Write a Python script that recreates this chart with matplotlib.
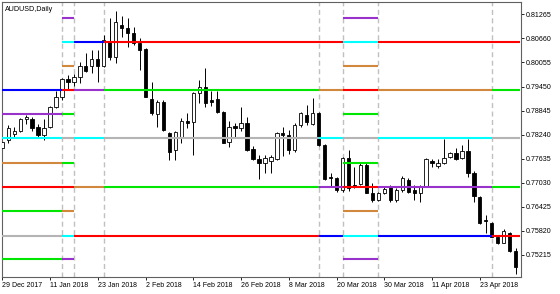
import matplotlib
matplotlib.use('Agg')
import matplotlib.pyplot as plt

plt.rcParams['font.family'] = ['Liberation Sans', 'DejaVu Sans']

# daily AUDUSD candles, bar 0 = 29 Dec 2017
opens = [0.77900, 0.78102, 0.78253, 0.78336, 0.78624, 0.78624, 0.78422, 0.78228, 0.78437, 0.78941,
         0.79178, 0.79632, 0.79571, 0.79682, 0.79967, 0.79967, 0.80136, 0.79967, 0.80579, 0.80201,
         0.81000, 0.80917, 0.80791, 0.80554, 0.80388, 0.79128, 0.78757, 0.79060, 0.78278, 0.77850,
         0.78185, 0.78581, 0.78563, 0.79279, 0.79430, 0.79110, 0.79128, 0.78815, 0.78059, 0.78455,
         0.78397, 0.78538, 0.77868, 0.77616, 0.77530, 0.77580, 0.77616, 0.78286, 0.78228, 0.77850,
         0.78480, 0.78732, 0.78498, 0.78775, 0.77976, 0.77170, 0.77137, 0.76842, 0.77641, 0.76968,
         0.76993, 0.77472, 0.76774, 0.76590, 0.76774, 0.76925, 0.76590, 0.76842, 0.77094, 0.76842,
         0.76774, 0.76925, 0.77580, 0.77447, 0.77515, 0.77681, 0.77782, 0.77641, 0.77832, 0.77278,
         0.76673, 0.76086, 0.76018, 0.75650, 0.75514, 0.75751, 0.75312]
highs = [0.78102, 0.78480, 0.78437, 0.78649, 0.78732, 0.78674, 0.78505, 0.78624, 0.78959, 0.79344,
         0.79664, 0.79740, 0.79765, 0.80075, 0.80287, 0.80370, 0.80370, 0.80748, 0.81169, 0.81353,
         0.81227, 0.81169, 0.80957, 0.80665, 0.80413, 0.79571, 0.79110, 0.79110, 0.78303, 0.78336,
         0.78649, 0.78775, 0.79299, 0.79614, 0.79909, 0.79344, 0.79344, 0.78833, 0.78588, 0.78523,
         0.78941, 0.78689, 0.77951, 0.77724, 0.77724, 0.77724, 0.78311, 0.78437, 0.78354, 0.78523,
         0.78815, 0.78984, 0.79153, 0.78808, 0.78001, 0.77263, 0.77177, 0.77681, 0.77850, 0.77429,
         0.77515, 0.77515, 0.77011, 0.76799, 0.76925, 0.76968, 0.76885, 0.77195, 0.77137, 0.76968,
         0.76968, 0.77641, 0.77616, 0.77616, 0.78120, 0.77807, 0.77893, 0.77976, 0.78120, 0.77328,
         0.76691, 0.76212, 0.76043, 0.75665, 0.75852, 0.75791, 0.75373]
lows = [0.77850, 0.78019, 0.78170, 0.78311, 0.78505, 0.78336, 0.78145, 0.78102, 0.78404, 0.78901,
        0.79110, 0.79362, 0.79463, 0.79531, 0.79823, 0.79783, 0.79571, 0.79949, 0.80118, 0.80035,
        0.80705, 0.80453, 0.80496, 0.79866, 0.79178, 0.78732, 0.78437, 0.78336, 0.77598, 0.77598,
        0.78019, 0.78404, 0.77724, 0.79042, 0.78941, 0.78959, 0.78775, 0.78026, 0.77918, 0.78145,
        0.78336, 0.77832, 0.77598, 0.77119, 0.77278, 0.77270, 0.77598, 0.77699, 0.77749, 0.77807,
        0.78437, 0.78480, 0.78480, 0.77951, 0.77094, 0.76925, 0.76799, 0.76799, 0.76817, 0.76885,
        0.76968, 0.76759, 0.76547, 0.76572, 0.76741, 0.76547, 0.76547, 0.76799, 0.76759, 0.76590,
        0.76547, 0.76910, 0.77429, 0.77389, 0.77497, 0.77641, 0.77598, 0.77616, 0.77177, 0.76547,
        0.75985, 0.75766, 0.75650, 0.75481, 0.75499, 0.75287, 0.74725]
closes = [0.78059, 0.78397, 0.78336, 0.78624, 0.78674, 0.78397, 0.78228, 0.78397, 0.78941, 0.79178,
          0.79632, 0.79564, 0.79697, 0.79974, 0.79848, 0.80136, 0.79967, 0.80622, 0.80201, 0.81083,
          0.80917, 0.80791, 0.80539, 0.80370, 0.79193, 0.78775, 0.79060, 0.78354, 0.77807, 0.78311,
          0.78581, 0.78538, 0.79279, 0.79430, 0.79042, 0.79067, 0.78815, 0.78034, 0.78437, 0.78412,
          0.78538, 0.77850, 0.77616, 0.77530, 0.77641, 0.77666, 0.78271, 0.78228, 0.77850, 0.78480,
          0.78775, 0.78563, 0.78775, 0.77976, 0.77112, 0.77144, 0.76842, 0.77641, 0.76885, 0.76925,
          0.77472, 0.76774, 0.76590, 0.76774, 0.76860, 0.76590, 0.76842, 0.77137, 0.76799, 0.76759,
          0.76925, 0.77616, 0.77515, 0.77515, 0.77641, 0.77767, 0.77616, 0.77832, 0.77278, 0.76691,
          0.76018, 0.76073, 0.75665, 0.75514, 0.75816, 0.75312, 0.74894]

tick_labels = ['29 Dec 2017', '11 Jan 2018', '23 Jan 2018', '2 Feb 2018', '14 Feb 2018', '26 Feb 2018',
               '8 Mar 2018', '20 Mar 2018', '30 Mar 2018', '11 Apr 2018', '23 Apr 2018']
price_ticks = [0.81265, 0.80660, 0.80055, 0.79450, 0.78845, 0.78240,
               0.77635, 0.77030, 0.76425, 0.75820, 0.75215]

# level periods: separators sit on these bars
separators = [10, 12, 17, 53, 57, 63, 82]
period_end = 86.8

levels_A = [0.79370, 0.78757, 0.78145, 0.77522, 0.76910, 0.76313, 0.75690, 0.75096]
colors_A = ['blue', 'purple', 'cyan', 'orange', 'red', 'green', 'gray', 'green']
levels_B = [0.81184, 0.80579, 0.79974, 0.79370, 0.78757, 0.78145, 0.77522, 0.76910, 0.76313, 0.75690, 0.75096]
colors_B = ['purple', 'cyan', 'orange', 'red', 'green', 'gray', 'green', 'red', 'orange', 'cyan', 'purple']
levels_C = [0.80579, 0.79370, 0.78145, 0.76910, 0.75690]
colors_C = ['blue', 'purple', 'cyan', 'orange', 'red']
levels_D = [0.80579, 0.79370, 0.78145, 0.76910, 0.75690]
colors_D = ['red', 'green', 'gray', 'green', 'red']
levels_E = [0.80579, 0.79370, 0.78145, 0.76910, 0.75690]
colors_E = ['red', 'orange', 'cyan', 'purple', 'blue']
periods = [(levels_A, colors_A), (levels_B, colors_B), (levels_C, colors_C), (levels_D, colors_D),
           (levels_E, colors_E), (levels_B, colors_B), (levels_E, colors_E), (levels_D, colors_D)]

palette = {'gray': '#b4b4b4', 'green': '#00e600', 'red': '#ff0000', 'orange': '#d2883c',
           'cyan': '#00ffff', 'purple': '#9932cc', 'blue': '#0000ff'}

fig = plt.figure(figsize=(5.6, 2.94), dpi=100)
ax = fig.add_axes([0.003, 0.0568, 0.927, 0.9374])
x0, x1 = -0.1, 86.86
ax.set_xlim(x0, x1)
ax.set_ylim(0.74642, 0.81587)

# candles
n = len(opens)
for i in range(n):
    ax.vlines(i, lows[i], highs[i], color='black', lw=0.7, zorder=2)
    lo = min(opens[i], closes[i])
    h = abs(closes[i] - opens[i])
    fc = 'white' if closes[i] >= opens[i] else 'black'
    ax.bar(i, h, 0.55, bottom=lo, color=fc, edgecolor='black', linewidth=0.6, zorder=3)

# period separators
for s in separators:
    ax.axvline(s, color='#c0c0c0', lw=1.0, dashes=(3.6, 2.5), zorder=1)

# level lines
edges = [x0] + separators + [period_end]
for k, (lv, cl) in enumerate(periods):
    for v, c in zip(lv, cl):
        ax.hlines(v, edges[k], edges[k + 1], color=palette[c], lw=1.5, zorder=4)

ax.text(0.007, 0.985, 'AUDUSD,Daily', transform=ax.transAxes, fontsize=5.1,
        ha='left', va='top')

ax.set_xticks(range(0, 81, 8))
ax.set_xticklabels(tick_labels, ha='left', fontsize=5.0)
ax.set_yticks(price_ticks)
ax.set_yticklabels(['%.5f' % p for p in price_ticks], fontsize=5.1)
ax.yaxis.tick_right()
ax.tick_params(axis='x', length=2.2, width=0.6, pad=1.5, direction='out')
ax.tick_params(axis='y', length=2.2, width=0.6, pad=1.2, direction='out')
for sp in ax.spines.values():
    sp.set_linewidth(0.8)
    sp.set_color('#606060')

fig.savefig('out.png', dpi=100)
